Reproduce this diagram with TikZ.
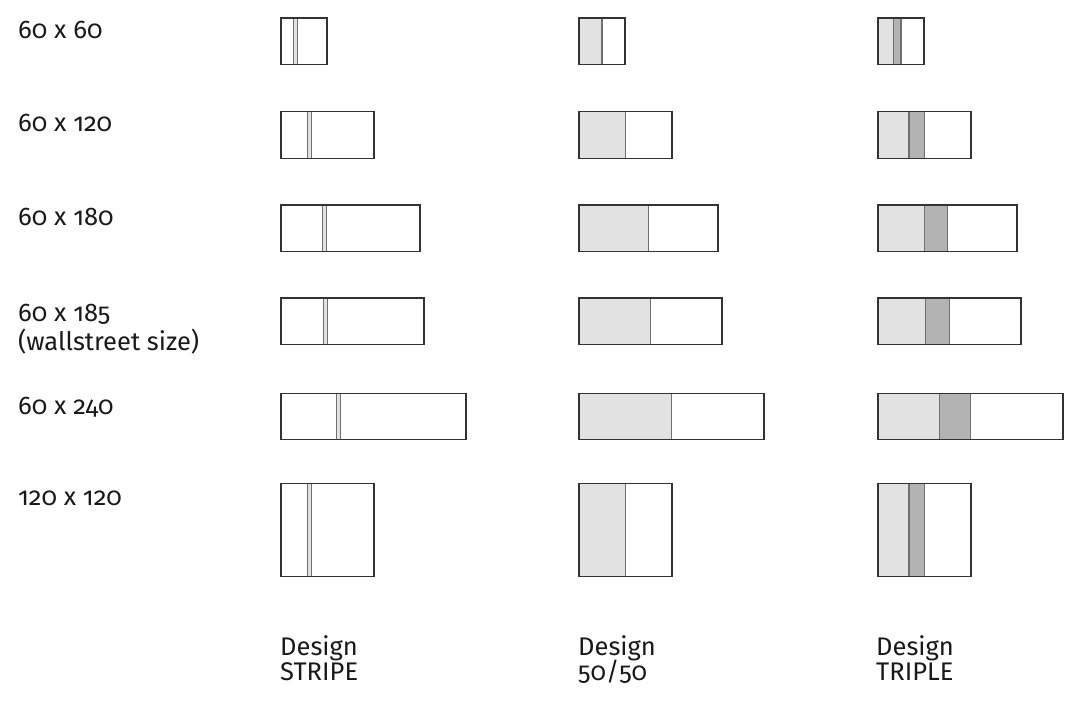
\documentclass[tikz,border=0pt]{standalone}
\usepackage{fontspec}
\setmainfont{Fira Sans}[Numbers=OldStyle]
\definecolor{lightf}{HTML}{E2E2E2}
\definecolor{darkf}{HTML}{B3B3B3}
\definecolor{edgec}{HTML}{333333}
\definecolor{midc}{HTML}{707070}
\newcommand\stripeBox[4]{%
  \fill[lightf] ({#1+0.31*#3-2},#2) rectangle ++(4,#4);
  \draw[midc, line width=1pt] ({#1+0.31*#3-2},#2) -- ++(0,#4) ({#1+0.31*#3+2},#2) -- ++(0,#4);
  \draw[edgec, line width=1.3pt] (#1,#2) rectangle ++(#3,#4);
}
\newcommand\halfBox[4]{%
  \fill[lightf] (#1,#2) rectangle ++({0.5*#3},#4);
  \draw[midc, line width=1.1pt] ({#1+0.5*#3},#2) -- ++(0,#4);
  \draw[edgec, line width=1.2pt] (#1,#2) rectangle ++(#3,#4);
}
\newcommand\tripleBox[4]{%
  \fill[lightf] (#1,#2) rectangle ++({#3/3},#4);
  \fill[darkf] ({#1+#3/3},#2) rectangle ++({#3/6},#4);
  \draw[midc, line width=1.1pt] ({#1+#3/3},#2) -- ++(0,#4) ({#1+#3/2},#2) -- ++(0,#4);
  \draw[edgec, line width=1.2pt] (#1,#2) rectangle ++(#3,#4);
}
\tikzset{lbl/.style={anchor=base west, inner sep=0pt, font=\fontsize{25.5}{25}\selectfont, text=black!90}}
\begin{document}
\begin{tikzpicture}[x=1pt, y=-1pt]
\useasboundingbox[fill=white] (0,0) rectangle (1065,708);
% row labels
\node[lbl] (r1) at (18,39) {60 x 60};
\node[lbl] (r2) at (18,132) {60 x 120};
\node[lbl] (r3) at (18,226) {60 x 180};
\node[lbl] (r4) at (18,321.5) {60 x 185};
\node[lbl] (r4b) at (18,351) {(wallstreet size)};
\node[lbl] (r5) at (18,414) {60 x 240};
\node[lbl] (r6) at (18,505) {120 x 120};
% boxes
\foreach \y/\w/\h in {18/46/46.5, 111.7/93/46.5, 205/139/46.5, 298/143/46.5, 393.3/185/46.5, 483.3/93/93}{
  \stripeBox{281}{\y}{\w}{\h}
  \halfBox{579}{\y}{\w}{\h}
  \tripleBox{878}{\y}{\w}{\h}
}
% design labels
\node[lbl] (d1a) at (280,655.5) {Design};
\node[lbl] (d1b) at (280,680) {STRIPE};
\node[lbl] (d2a) at (578,655.5) {Design};
\node[lbl] (d2b) at (578,680) {50/50};
\node[lbl] (d3a) at (876,655.5) {Design};
\node[lbl] (d3b) at (876,680) {TRIPLE};
\end{tikzpicture}
\end{document}
